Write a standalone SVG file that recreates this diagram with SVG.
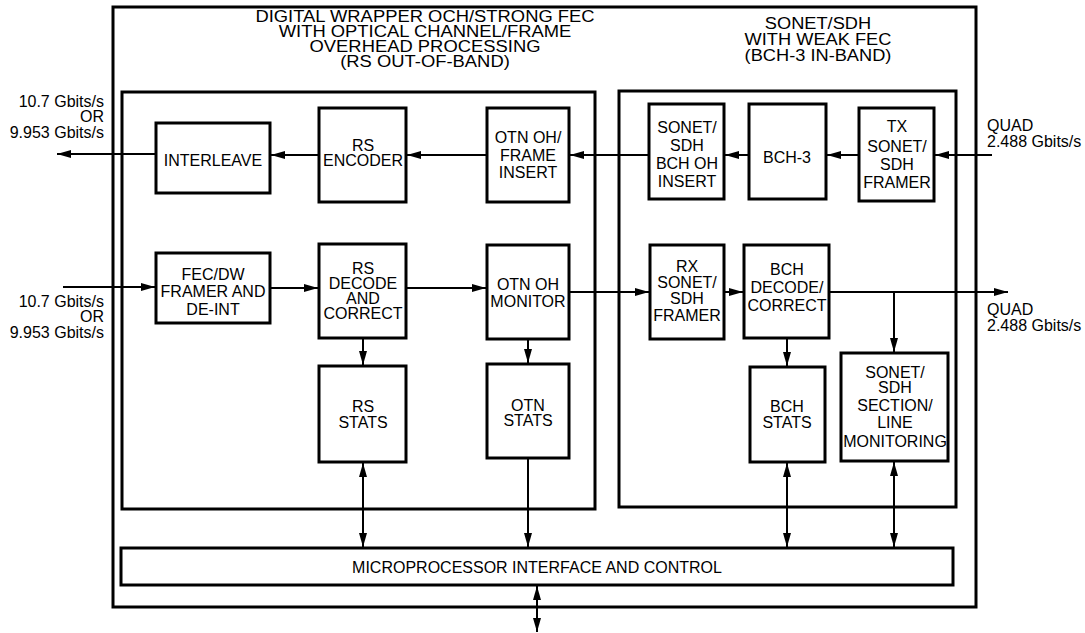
<svg xmlns="http://www.w3.org/2000/svg" width="1085" height="633" viewBox="0 0 1085 633">
<style>
.box{fill:#fff;stroke:#000;stroke-width:3}
.frame{fill:none;stroke:#000;stroke-width:3}
.t{font-family:"Liberation Sans",Arial,sans-serif;font-size:16px;fill:#000;text-anchor:middle}
.l{font-family:"Liberation Sans",Arial,sans-serif;font-size:16px;fill:#000}
.r{text-anchor:end}
.h{font-family:"Liberation Sans",Arial,sans-serif;font-size:16.5px;fill:#000;text-anchor:middle}
.c{fill:none;stroke:#000;stroke-width:2}
.a{marker-end:url(#ah)}
.b{marker-start:url(#ah);marker-end:url(#ah)}
</style>
<defs>
<marker id="ah" markerUnits="userSpaceOnUse" markerWidth="15" markerHeight="10" refX="14" refY="4" orient="auto-start-reverse">
<path d="M0,0 L14,4 L0,8 z" fill="#000"/>
</marker>
</defs>
<rect width="1085" height="633" fill="#fff"/>

<g id="outer"><rect class="frame" x="113" y="7" width="863" height="600"/></g>

<g id="och-section">
<rect class="frame" x="122" y="92" width="473" height="417"/>
<g transform="translate(425,0) scale(1.115,1)">
<text class="h" x="0" y="22">DIGITAL WRAPPER OCH/STRONG FEC</text>
<text class="h" x="0" y="37">WITH OPTICAL CHANNEL/FRAME</text>
<text class="h" x="0" y="52">OVERHEAD PROCESSING</text>
<text class="h" x="0" y="67">(RS OUT-OF-BAND)</text>
</g>
</g>

<g id="sonet-section">
<rect class="frame" x="619" y="91" width="337" height="416"/>
<g transform="translate(818,0) scale(1.105,1)">
<text class="h" x="0" y="29">SONET/SDH</text>
<text class="h" x="0" y="45">WITH WEAK FEC</text>
<text class="h" x="0" y="61">(BCH-3 IN-BAND)</text>
</g>
</g>

<g id="connectors">
<line class="c a" x1="992" y1="155" x2="935" y2="155"/>
<line class="c a" x1="859" y1="155" x2="827" y2="155"/>
<line class="c a" x1="749" y1="155" x2="725" y2="155"/>
<line class="c a" x1="649" y1="155" x2="570" y2="155"/>
<line class="c a" x1="487" y1="155" x2="407" y2="155"/>
<line class="c a" x1="319" y1="155" x2="271" y2="155"/>
<line class="c a" x1="156" y1="154" x2="57" y2="154"/>
<line class="c a" x1="63" y1="287" x2="155" y2="287"/>
<line class="c a" x1="270" y1="288" x2="318" y2="288"/>
<line class="c a" x1="406" y1="288" x2="486" y2="288"/>
<line class="c a" x1="569" y1="292" x2="649" y2="292"/>
<line class="c a" x1="724" y1="292" x2="743" y2="292"/>
<line class="c a" x1="829" y1="292" x2="1008" y2="292"/>
<line class="c a" x1="894" y1="292" x2="894" y2="352"/>
<line class="c a" x1="363" y1="338" x2="363" y2="365"/>
<line class="c a" x1="528" y1="339" x2="528" y2="363"/>
<line class="c a" x1="787" y1="338" x2="787" y2="366"/>
<line class="c b" x1="363" y1="463" x2="363" y2="547"/>
<line class="c a" x1="528" y1="458" x2="528" y2="547"/>
<line class="c b" x1="787" y1="463" x2="787" y2="547"/>
<line class="c b" x1="894" y1="462" x2="894" y2="547"/>
<line class="c b" x1="537" y1="586" x2="537" y2="632"/>
</g>

<g id="label-tx-out">
<text class="l r" x="104" y="107">10.7 Gbits/s</text>
<text class="l r" x="104" y="122">OR</text>
<text class="l r" x="104" y="138">9.953 Gbits/s</text>
</g>
<g id="label-rx-in">
<text class="l r" x="104" y="307">10.7 Gbits/s</text>
<text class="l r" x="104" y="322">OR</text>
<text class="l r" x="104" y="338">9.953 Gbits/s</text>
</g>
<g id="label-quad-in">
<text class="l" x="987" y="131">QUAD</text>
<text class="l" x="987" y="147">2.488 Gbits/s</text>
</g>
<g id="label-quad-out">
<text class="l" x="987" y="315">QUAD</text>
<text class="l" x="987" y="331">2.488 Gbits/s</text>
</g>

<g id="interleave">
<rect class="box" x="156" y="123" width="114" height="70"/>
<text class="t" x="213" y="166">INTERLEAVE</text>
</g>
<g id="rs-encoder">
<rect class="box" x="319" y="108" width="87" height="94"/>
<text class="t" x="363" y="151">RS</text>
<text class="t" x="363" y="166">ENCODER</text>
</g>
<g id="otn-oh-frame-insert">
<rect class="box" x="487" y="108" width="82" height="94"/>
<text class="t" x="528" y="143">OTN OH/</text>
<text class="t" x="528" y="161">FRAME</text>
<text class="t" x="528" y="178">INSERT</text>
</g>
<g id="sonet-bch-oh-insert">
<rect class="box" x="649" y="104" width="75" height="95"/>
<text class="t" x="687" y="133">SONET/</text>
<text class="t" x="687" y="151">SDH</text>
<text class="t" x="687" y="169">BCH OH</text>
<text class="t" x="687" y="187">INSERT</text>
</g>
<g id="bch-3">
<rect class="box" x="749" y="104" width="77" height="95"/>
<text class="t" x="787" y="163">BCH-3</text>
</g>
<g id="tx-sonet-framer">
<rect class="box" x="859" y="108" width="75" height="93"/>
<text class="t" x="897" y="132">TX</text>
<text class="t" x="897" y="152">SONET/</text>
<text class="t" x="897" y="170">SDH</text>
<text class="t" x="897" y="188">FRAMER</text>
</g>

<g id="fec-dw-framer">
<rect class="box" x="156" y="253" width="114" height="70"/>
<text class="t" x="213" y="280">FEC/DW</text>
<text class="t" x="213" y="297">FRAMER AND</text>
<text class="t" x="213" y="315">DE-INT</text>
</g>
<g id="rs-decode">
<rect class="box" x="319" y="244" width="87" height="94"/>
<text class="t" x="363" y="274">RS</text>
<text class="t" x="363" y="289">DECODE</text>
<text class="t" x="363" y="304">AND</text>
<text class="t" x="363" y="319">CORRECT</text>
</g>
<g id="otn-oh-monitor">
<rect class="box" x="487" y="245" width="82" height="94"/>
<text class="t" x="528" y="290">OTN OH</text>
<text class="t" x="528" y="307">MONITOR</text>
</g>
<g id="rx-sonet-framer">
<rect class="box" x="650" y="245" width="74" height="94"/>
<text class="t" x="687" y="272">RX</text>
<text class="t" x="687" y="288">SONET/</text>
<text class="t" x="687" y="304">SDH</text>
<text class="t" x="687" y="321">FRAMER</text>
</g>
<g id="bch-decode">
<rect class="box" x="744" y="245" width="85" height="93"/>
<text class="t" x="787" y="275">BCH</text>
<text class="t" x="787" y="293">DECODE/</text>
<text class="t" x="787" y="311">CORRECT</text>
</g>

<g id="rs-stats">
<rect class="box" x="319" y="366" width="87" height="96"/>
<text class="t" x="363" y="412">RS</text>
<text class="t" x="363" y="428">STATS</text>
</g>
<g id="otn-stats">
<rect class="box" x="487" y="364" width="82" height="94"/>
<text class="t" x="528" y="411">OTN</text>
<text class="t" x="528" y="426">STATS</text>
</g>
<g id="bch-stats">
<rect class="box" x="750" y="367" width="75" height="95"/>
<text class="t" x="787" y="412">BCH</text>
<text class="t" x="787" y="428">STATS</text>
</g>
<g id="sonet-section-line-monitoring">
<rect class="box" x="841" y="353" width="107" height="108"/>
<text class="t" x="895" y="378">SONET/</text>
<text class="t" x="895" y="393">SDH</text>
<text class="t" x="895" y="411">SECTION/</text>
<text class="t" x="895" y="428">LINE</text>
<text class="t" x="895" y="447">MONITORING</text>
</g>

<g id="microprocessor">
<rect class="box" x="121" y="548" width="832" height="37"/>
<text class="t" x="537" y="573">MICROPROCESSOR INTERFACE AND CONTROL</text>
</g>
</svg>
